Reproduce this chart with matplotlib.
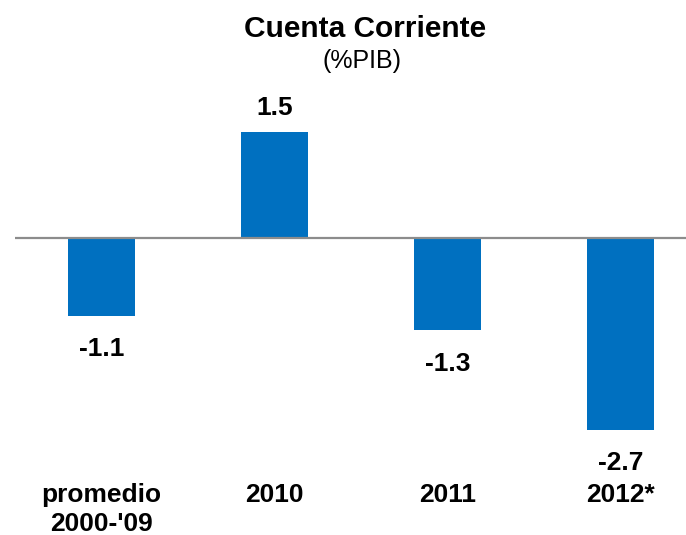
import matplotlib
matplotlib.use("Agg")
import matplotlib.pyplot as plt

plt.rcParams['font.family'] = ['Liberation Sans', 'DejaVu Sans']

# Data
categories = ["promedio\n2000-'09", "2010", "2011", "2012*"]
values = [-1.1, 1.5, -1.3, -2.7]
bar_color = '#0070C0'

fig = plt.figure(figsize=(6.86, 5.35), dpi=100)
ax = fig.add_axes([15/686, 0.1305, 671/686, 0.690])

x = range(len(categories))
ax.bar(x, values, width=0.39, color=bar_color, zorder=2)
ax.axhline(0, color='#8c8c8c', linewidth=1.6, zorder=3)

for xi, v in zip(x, values):
    off = 17 if v > 0 else -24
    ax.annotate(f"{v:.1f}", (xi, v), xytext=(0, off), textcoords='offset points',
                ha='center', va='center', fontsize=19, fontweight='bold')

ax.set_xlim(-0.5, 3.38)
ax.set_ylim(-3.2, 2.0)
ax.set_xticks(list(x))
ax.set_xticklabels(categories, fontsize=19, fontweight='bold', linespacing=1.25)
ax.tick_params(axis='x', length=0, pad=13)
ax.set_yticks([])
for s in ax.spines.values():
    s.set_visible(False)

fig.text(365/686, 1 - 29/535, "Cuenta Corriente", ha='center', va='center',
         fontsize=21.5, fontweight='bold')
fig.text(362/686, 1 - 61/535, "(%PIB)", ha='center', va='center', fontsize=18)

fig.savefig('out.png', dpi=100)
